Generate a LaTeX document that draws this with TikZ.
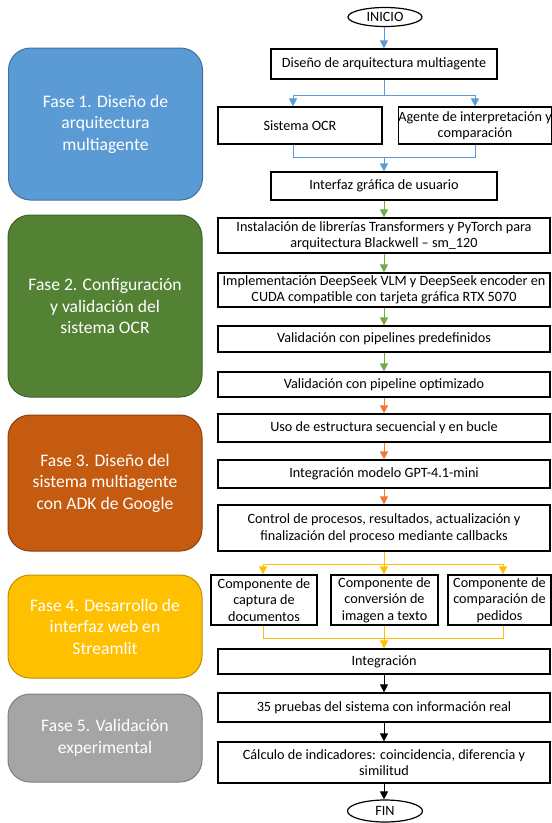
\documentclass[tikz,border=0pt]{standalone}
\usepackage{fontspec}
\setmainfont{Carlito}
\usetikzlibrary{arrows.meta,shapes.geometric,calc}
\definecolor{cblue}{HTML}{5B9BD5}
\definecolor{cgreen}{HTML}{70AD47}
\definecolor{corange}{HTML}{ED7D31}
\definecolor{cyel}{HTML}{FFC000}
\definecolor{fone}{HTML}{5B9BD5}\definecolor{foned}{HTML}{41719C}
\definecolor{ftwo}{HTML}{548235}\definecolor{ftwod}{HTML}{3E6128}
\definecolor{fthree}{HTML}{C55A11}\definecolor{fthreed}{HTML}{8C400C}
\definecolor{ffour}{HTML}{FFC000}\definecolor{ffourd}{HTML}{BF9000}
\definecolor{ffive}{HTML}{A5A5A5}\definecolor{ffived}{HTML}{7F7F7F}
\tikzset{
  box/.style={draw=black, line width=1.2pt, align=center, inner sep=0pt,
    font=\fontsize{14.2}{16.5}\selectfont},
  term/.style={draw=black, line width=1.2pt, ellipse, inner sep=0pt,
    font=\fontsize{14.2}{16.5}\selectfont},
  phase/.style={line width=1pt, rounded corners=22pt, align=center, inner sep=0pt,
    text=white, minimum width=194pt, font=\fontsize{17.6}{21.5}\selectfont},
  ln/.style={line width=1pt},
  ab/.style={line width=1pt, -{Triangle[width=8pt,length=8pt]}},
}
\begin{document}
\begin{tikzpicture}[x=1pt,y=-1pt]
\useasboundingbox (0,0) rectangle (552,823);
% phase boxes
\node[phase, fill=fone, draw=foned, minimum height=152pt] (p1) at (105.5,124) {Fase 1. Diseño de\\arquitectura\\multiagente};
\node[phase, fill=ftwo, draw=ftwod, minimum height=182pt] (p2) at (105,306) {Fase 2. Configuración\\y validación del\\sistema OCR};
\node[phase, fill=fthree, draw=fthreed, minimum height=136pt] (p3) at (105,483) {Fase 3. Diseño del\\sistema multiagente\\con ADK de Google};
\node[phase, fill=ffour, draw=ffourd, minimum height=103pt] (p4) at (105,626.5) {Fase 4. Desarrollo de\\interfaz web en\\Streamlit};
\node[phase, fill=ffive, draw=ffived, minimum height=88pt] (p5) at (105,738) {Fase 5. Validación\\experimental};
% flow
\node[term, minimum width=74pt, minimum height=19pt] (inicio) at (385,17) {INICIO};
\node[box, minimum width=226pt, minimum height=30pt] (d1) at (384,64) {Diseño de arquitectura multiagente};
\node[box, minimum width=164pt, minimum height=37pt] (ocr) at (300,125.5) {Sistema OCR};
\node[box, minimum width=150pt, minimum height=37pt] (agente) at (475,125.5) {Agente de interpretación y\\comparación};
\node[box, minimum width=226pt, minimum height=28pt] (interfaz) at (384,186) {Interfaz gráfica de usuario};
\node[box, minimum width=332pt, minimum height=35pt] (inst) at (384,235.5) {Instalación de librerías Transformers y PyTorch para\\arquitectura Blackwell – sm\_120};
\node[box, minimum width=332pt, minimum height=34pt] (impl) at (384,290) {Implementación DeepSeek VLM y DeepSeek encoder en\\CUDA compatible con tarjeta gráfica RTX 5070};
\node[box, minimum width=332pt, minimum height=26pt] (vpre) at (384,339) {Validación con pipelines predefinidos};
\node[box, minimum width=332pt, minimum height=25pt] (vopt) at (384,384.5) {Validación con pipeline optimizado};
\node[box, minimum width=332pt, minimum height=28pt] (uso) at (384,428) {Uso de estructura secuencial y en bucle};
\node[box, minimum width=332pt, minimum height=28pt] (gpt) at (384,474) {Integración modelo GPT-4.1-mini};
\node[box, minimum width=332pt, minimum height=46pt] (ctrl) at (384,528) {Control de procesos, resultados, actualización y\\finalización del proceso mediante callbacks};
\node[box, minimum width=106pt, minimum height=50pt] (c1) at (264,600) {Componente de\\captura de\\documentos};
\node[box, minimum width=107pt, minimum height=50pt] (c2) at (384.5,600) {Componente de\\conversión de\\imagen a texto};
\node[box, minimum width=103pt, minimum height=50pt] (c3) at (499.5,600) {Componente de\\comparación de\\pedidos};
\node[box, minimum width=332pt, minimum height=25pt] (integ) at (384,661.5) {Integración};
\node[box, minimum width=332pt, minimum height=29pt] (pruebas) at (384,707.5) {35 pruebas del sistema con información real};
\node[box, minimum width=332pt, minimum height=41pt] (calc) at (384,762.5) {Cálculo de indicadores: coincidencia, diferencia y\\similitud};
\node[term, minimum width=75pt, minimum height=22pt] (fin) at (385,811) {FIN};
% connectors
\coordinate (s1) at (384,95);
\coordinate (m1) at (384,157);
\coordinate (s2) at (384,564);
\coordinate (m2) at (384,638);
\draw[ab, cblue] (inicio.south -| d1.north) -- (d1.north);
\draw[ln, cblue] (d1.south) -- (s1);
\draw[ab, cblue] (s1) -| ($(ocr.north)+(-7,0)$);
\draw[ab, cblue] (s1) -| (agente.north);
\draw[ln, cblue] ($(ocr.south)+(-7,0)$) |- (m1);
\draw[ln, cblue] (agente.south) |- (m1);
\draw[ab, cblue] (m1) -- (interfaz.north);
\draw[ab, cgreen] (interfaz) -- (inst);
\draw[ab, cgreen] (inst) -- (impl);
\draw[ab, cgreen] (impl) -- (vpre);
\draw[ab, cgreen] (vpre) -- (vopt);
\draw[ab, corange] (vopt) -- (uso);
\draw[ab, corange] (uso) -- (gpt);
\draw[ab, corange] (gpt) -- (ctrl);
\draw[ln, cyel] (ctrl.south) -- (s2);
\draw[ab, cyel] (s2) -| ($(c1.north)+(-1,0)$);
\draw[ab, cyel] (s2) -- (s2 |- c2.north);
\draw[ab, cyel] (s2) -| ($(c3.north)+(3.5,0)$);
\draw[ln, cyel] ($(c1.south)+(-1,0)$) |- (m2);
\draw[ln, cyel] ($(c3.south)+(3.5,0)$) |- (m2);
\draw[ln, cyel] (m2 |- c2.south) -- (m2);
\draw[ab, cyel] (m2) -- (integ.north);
\draw[ab, black] (integ) -- (pruebas);
\draw[ab, black] (pruebas) -- (calc);
\draw[ab, black] (calc.south) -- (calc.south |- fin.north);
\end{tikzpicture}
\end{document}
